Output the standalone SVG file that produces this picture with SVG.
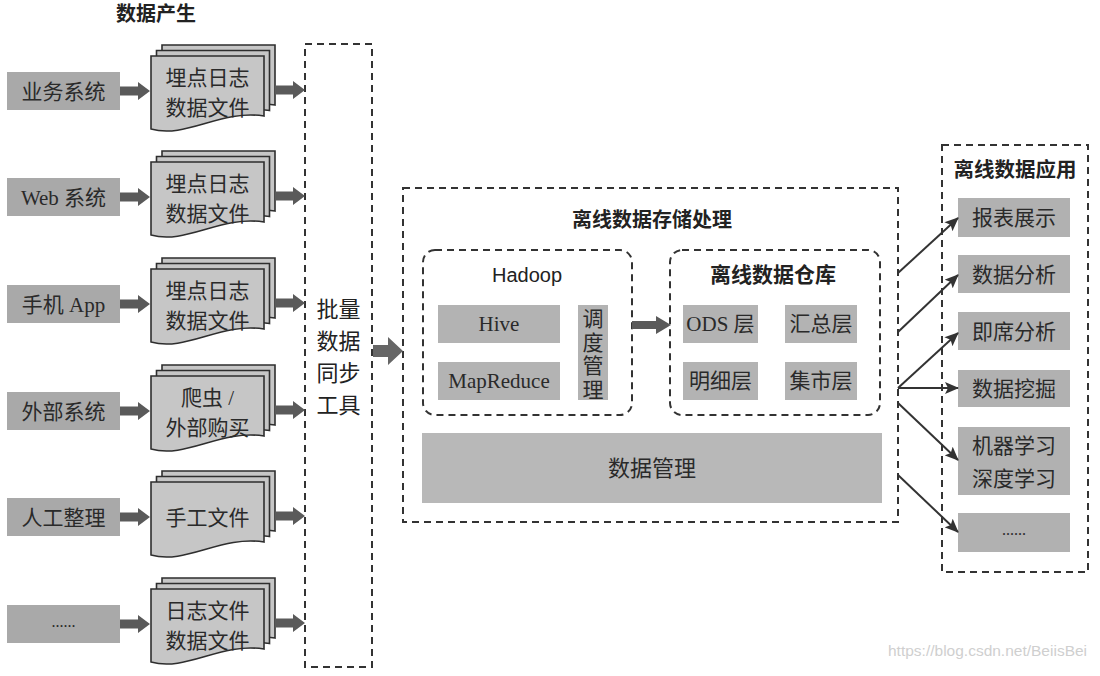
<svg xmlns="http://www.w3.org/2000/svg" xmlns:xlink="http://www.w3.org/1999/xlink" width="1100" height="676" viewBox="0 0 1100 676">
<style>
.bg{fill:#ffffff}
.box{fill:#a9a9a9}
.ibox{fill:#b3b3b3}
.abox{fill:#b1b1b1}
.sheet{fill:#c6c6c6;stroke:#2e2e2e;stroke-width:1.6}
.dash{fill:none;stroke:#333;stroke-width:2;stroke-dasharray:7 5}
.t{font-family:"Liberation Serif","Noto Sans CJK SC",serif;font-size:21px;fill:#2a2a2a;text-anchor:middle}
.v{font-family:"Noto Sans CJK SC","Liberation Sans",sans-serif;font-size:22px;fill:#222;text-anchor:middle}
.h{font-family:"Noto Sans CJK SC","Liberation Sans",sans-serif;font-size:20px;font-weight:bold;fill:#222;text-anchor:middle}
.hs{font-family:"Liberation Sans",Arial,sans-serif;font-size:20px;fill:#222;text-anchor:middle}
.fat{fill:#5a5a5a}
.thin{fill:none;stroke:#333;stroke-width:2}
.wm{font-family:"Liberation Sans",Arial,sans-serif;font-size:15.5px;fill:#cfcfcf}
</style>
<defs>
<g id="stack">
<path class="sheet" transform="translate(11,-11)" d="M0,-35 H113 V25 C70,18 35,48 0,38 Z"/>
<path class="sheet" transform="translate(5.5,-5.5)" d="M0,-35 H113 V25 C70,18 35,48 0,38 Z"/>
<path class="sheet" d="M0,-35 H113 V25 C70,18 35,48 0,38 Z"/>
</g>
<path id="fatArrow" d="M0,-4.5 H18 V-9 L30,0 L18,9 V4.5 H0 Z"/>
<marker id="ah" markerWidth="14" markerHeight="12" refX="13" refY="6" orient="auto" markerUnits="userSpaceOnUse">
<path d="M0,0 L14,6 L0,12 L3,6 Z" fill="#333"/>
</marker>
</defs>
<rect class="bg" x="0" y="0" width="1100" height="676"/>

<text class="h" x="156" y="21">数据产生</text>

<g id="src-1"><rect class="box" x="7" y="72" width="113" height="38"/><text class="t" x="63.5" y="98.5">业务系统</text></g>
<g id="src-2"><rect class="box" x="7" y="178" width="113" height="38"/><text class="t" x="63.5" y="204.5">Web 系统</text></g>
<g id="src-3"><rect class="box" x="7" y="285" width="113" height="38"/><text class="t" x="63.5" y="311.5">手机 App</text></g>
<g id="src-4"><rect class="box" x="7" y="392" width="113" height="38"/><text class="t" x="63.5" y="418.5">外部系统</text></g>
<g id="src-5"><rect class="box" x="7" y="498" width="113" height="38"/><text class="t" x="63.5" y="524.5">人工整理</text></g>
<g id="src-6"><rect class="box" x="7" y="605" width="113" height="38"/><text class="t" x="63.5" y="627" style="font-size:16px">......</text></g>

<g id="file-1"><use xlink:href="#stack" x="151" y="91"/><text class="t" x="207.5" y="85">埋点日志</text><text class="t" x="207.5" y="115">数据文件</text></g>
<g id="file-2"><use xlink:href="#stack" x="151" y="197"/><text class="t" x="207.5" y="191">埋点日志</text><text class="t" x="207.5" y="221">数据文件</text></g>
<g id="file-3"><use xlink:href="#stack" x="151" y="304"/><text class="t" x="207.5" y="298">埋点日志</text><text class="t" x="207.5" y="328">数据文件</text></g>
<g id="file-4"><use xlink:href="#stack" x="151" y="411"/><text class="t" x="207.5" y="405">爬虫 /</text><text class="t" x="207.5" y="435">外部购买</text></g>
<g id="file-5"><use xlink:href="#stack" x="151" y="517"/><text class="t" x="207.5" y="525">手工文件</text></g>
<g id="file-6"><use xlink:href="#stack" x="151" y="624"/><text class="t" x="207.5" y="618">日志文件</text><text class="t" x="207.5" y="648">数据文件</text></g>

<g id="sync">
<rect class="dash" x="305" y="44" width="67" height="623"/>
<text class="v" x="338.5" y="317">批量</text>
<text class="v" x="338.5" y="349">数据</text>
<text class="v" x="338.5" y="381">同步</text>
<text class="v" x="338.5" y="413">工具</text>
</g>

<g id="storage">
<rect class="dash" x="403" y="188" width="495" height="334"/>
<text class="h" x="652" y="227">离线数据存储处理</text>
</g>

<g id="hadoop">
<rect class="dash" x="423" y="250" width="209" height="165" rx="12"/>
<text class="hs" x="527" y="282">Hadoop</text>
<rect class="ibox" x="438" y="305" width="122" height="38"/>
<text class="t" x="499" y="331">Hive</text>
<rect class="ibox" x="438" y="362" width="122" height="38"/>
<text class="t" x="499" y="388">MapReduce</text>
<rect class="ibox" x="578" y="305" width="30" height="95"/>
<text class="t" x="593" y="326">调</text>
<text class="t" x="593" y="349.5">度</text>
<text class="t" x="593" y="373">管</text>
<text class="t" x="593" y="396.5">理</text>
</g>

<g id="warehouse">
<rect class="dash" x="670" y="250" width="210" height="165" rx="12"/>
<text class="h" x="773" y="282" style="font-size:21px">离线数据仓库</text>
<rect class="ibox" x="683" y="305" width="75" height="38"/>
<text class="t" x="720.5" y="331">ODS 层</text>
<rect class="ibox" x="785" y="305" width="72" height="38"/>
<text class="t" x="821" y="331">汇总层</text>
<rect class="ibox" x="683" y="362" width="75" height="38"/>
<text class="t" x="720.5" y="388">明细层</text>
<rect class="ibox" x="785" y="362" width="72" height="38"/>
<text class="t" x="821" y="388">集市层</text>
</g>

<g id="datamgmt">
<rect class="ibox" x="422" y="433" width="460" height="70" style="fill:#b8b8b8"/>
<text class="t" x="652" y="476" style="font-size:22px">数据管理</text>
</g>

<g id="apps">
<rect class="dash" x="942" y="145" width="146" height="427"/>
<text class="h" x="1015" y="177" style="font-size:20.5px">离线数据应用</text>
</g>
<g id="app-1"><rect class="abox" x="958" y="198" width="112" height="39"/><text class="t" x="1014" y="225">报表展示</text></g>
<g id="app-2"><rect class="abox" x="958" y="255" width="112" height="38"/><text class="t" x="1014" y="281.5">数据分析</text></g>
<g id="app-3"><rect class="abox" x="958" y="312" width="112" height="38"/><text class="t" x="1014" y="338.5">即席分析</text></g>
<g id="app-4"><rect class="abox" x="958" y="370" width="112" height="37"/><text class="t" x="1014" y="396">数据挖掘</text></g>
<g id="app-5"><rect class="abox" x="958" y="427" width="112" height="68"/><text class="t" x="1014" y="452.5">机器学习</text><text class="t" x="1014" y="485.5">深度学习</text></g>
<g id="app-6"><rect class="abox" x="958" y="513" width="112" height="39"/><text class="t" x="1014" y="535" style="font-size:16px">......</text></g>

<g id="connectors">
<use class="fat" xlink:href="#fatArrow" x="120" y="91"/>
<use class="fat" xlink:href="#fatArrow" x="120" y="197"/>
<use class="fat" xlink:href="#fatArrow" x="120" y="304"/>
<use class="fat" xlink:href="#fatArrow" x="120" y="411"/>
<use class="fat" xlink:href="#fatArrow" x="120" y="517"/>
<use class="fat" xlink:href="#fatArrow" x="120" y="624"/>
<use class="fat" xlink:href="#fatArrow" x="275" y="90"/>
<use class="fat" xlink:href="#fatArrow" x="275" y="196"/>
<use class="fat" xlink:href="#fatArrow" x="275" y="303"/>
<use class="fat" xlink:href="#fatArrow" x="275" y="410"/>
<use class="fat" xlink:href="#fatArrow" x="275" y="516"/>
<use class="fat" xlink:href="#fatArrow" x="275" y="623"/>
<path d="M373,345 H388 V337 L403,351 L388,365 V357 H373 Z" fill="#666"/>
<path d="M632,321 H656 V316 L671,325 L656,334 V329 H632 Z" class="fat"/>
<line class="thin" x1="898" y1="273" x2="958" y2="218" marker-end="url(#ah)"/>
<line class="thin" x1="898" y1="332" x2="958" y2="275" marker-end="url(#ah)"/>
<line class="thin" x1="898" y1="388" x2="958" y2="333" marker-end="url(#ah)"/>
<line class="thin" x1="898" y1="388" x2="958" y2="388" marker-end="url(#ah)"/>
<line class="thin" x1="898" y1="403" x2="958" y2="460" marker-end="url(#ah)"/>
<line class="thin" x1="898" y1="475" x2="958" y2="532" marker-end="url(#ah)"/>
</g>

<text class="wm" x="888" y="656">https://blog.csdn.net/BeiisBei</text>
</svg>
